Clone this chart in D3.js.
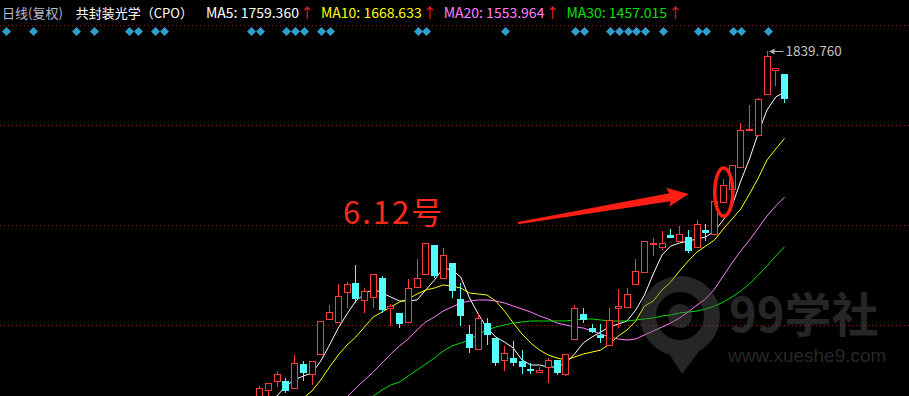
<!DOCTYPE html>
<html>
<head>
<meta charset="utf-8">
<script src="https://cdn.jsdelivr.net/npm/d3@7/dist/d3.min.js"></script>
<style>
  body { margin: 0; background: #000; overflow: hidden; }
</style>
</head>
<body>
<div id="chart"></div>
<script>
// daily candles, index 0 = first candle visible above the bottom edge
var opens  = [1160, 1175.8, 1193.3, 1195.3, 1179.7, 1228.5, 1207.0, 1246.0, 1314.3, 1308.5,
              1367.0, 1386.6, 1351.4, 1357.3, 1396.3, 1335.8, 1328.0, 1308.5, 1376.8, 1402.2,
              1460.7, 1394.3, 1425.6, 1355.3, 1287.0, 1255.7, 1308.5, 1279.2, 1234.3, 1240.1,
              1234.3, 1218.7, 1210.9, 1220.7, 1236.3, 1207.0, 1275.3, 1326.0, 1298.7, 1285.0,
              1263.6, 1335.8, 1337.7, 1382.6, 1406.1, 1462.6, 1454.8, 1480.2, 1466.5, 1476.3,
              1454.8, 1489.9, 1480.2, 1542.6, 1568.0, 1611.0, 1683.2, 1673.4, 1753.4, 1800.2,
              1794.4];
var highs  = [1185.5, 1191.4, 1214.8, 1201.1, 1246.0, 1234.3, 1234.3, 1312.4, 1343.6, 1384.6,
              1388.0, 1421.7, 1376.8, 1404.1, 1400.2, 1345.5, 1328.0, 1394.3, 1433.4, 1464.6,
              1460.7, 1454.8, 1425.6, 1386.6, 1304.6, 1328.0, 1318.2, 1279.2, 1263.6, 1273.3,
              1255.7, 1230.4, 1222.6, 1240.1, 1236.3, 1247.9, 1343.6, 1337.7, 1306.5, 1306.5,
              1337.7, 1374.8, 1376.8, 1433.4, 1468.5, 1474.3, 1488.0, 1491.9, 1497.7, 1489.9,
              1509.5, 1501.7, 1546.6, 1589.5, 1616.8, 1698.8, 1733.9, 1747.6, 1839.76, 1806.1,
              1794.4];
var lows   = [1150, 1160, 1183.6, 1172, 1179.7, 1195.3, 1187.5, 1246.0, 1314.3, 1308.5,
              1337.7, 1347.5, 1328.0, 1337.7, 1328.0, 1302.6, 1298.7, 1308.5, 1376.8, 1402.2,
              1396.3, 1394.3, 1357.3, 1302.6, 1249.9, 1255.7, 1265.5, 1224.5, 1214.8, 1224.5,
              1208.9, 1208.9, 1210.9, 1191.4, 1207.0, 1205.0, 1275.3, 1308.5, 1289.0, 1269.4,
              1263.6, 1298.7, 1337.7, 1382.6, 1406.1, 1439.2, 1450.9, 1474.3, 1466.5, 1445.1,
              1454.8, 1468.5, 1480.2, 1542.6, 1568.0, 1611.0, 1683.2, 1673.4, 1753.4, 1771.0,
              1737.8];
var closes = [1181.6, 1191.4, 1208.9, 1175.8, 1230.4, 1210.9, 1234.3, 1312.4, 1329.9, 1361.2,
              1384.6, 1355.3, 1370.9, 1404.1, 1333.8, 1341.6, 1306.5, 1376.8, 1396.3, 1464.6,
              1400.2, 1441.2, 1370.9, 1322.1, 1259.7, 1318.2, 1285.0, 1230.4, 1249.9, 1230.4,
              1222.6, 1216.7, 1216.7, 1236.3, 1210.9, 1247.9, 1337.7, 1314.3, 1290.9, 1279.2,
              1314.3, 1341.6, 1365.1, 1409.9, 1468.5, 1464.6, 1464.6, 1474.3, 1482.1, 1449.0,
              1501.7, 1484.1, 1546.6, 1577.8, 1616.8, 1685.1, 1687.1, 1745.6, 1829.5, 1806.1,
              1745.6];

var ma5  = [1148.4, 1154.3, 1166.0, 1185.5, 1197.2, 1205.0, 1210.9, 1234.3, 1265.5, 1298.7,
            1326.0, 1351.4, 1365.1, 1374.8, 1367.0, 1359.2, 1351.4, 1351.4, 1353.4, 1372.9,
            1392.4, 1415.8, 1411.9, 1398.2, 1357.3, 1326.0, 1298.7, 1281.1, 1271.4, 1259.7,
            1236.3, 1226.5, 1226.5, 1222.6, 1222.6, 1230.4, 1247.9, 1269.4, 1281.1, 1290.9,
            1300.7, 1306.5, 1312.4, 1333.8, 1363.1, 1404.1, 1441.2, 1458.7, 1464.6, 1468.5,
            1472.4, 1476.3, 1488.0, 1509.5, 1536.8, 1585.6, 1628.5, 1679.3, 1724.1, 1749.5,
            1759.36];
var ma10 = [1080.1, 1099.7, 1119.2, 1138.7, 1152.3, 1162.1, 1175.8, 1197.2, 1222.6, 1246.0,
            1265.5, 1281.1, 1300.7, 1320.2, 1329.9, 1339.7, 1349.4, 1355.3, 1365.1, 1372.9,
            1376.8, 1382.6, 1380.7, 1376.8, 1367.0, 1365.1, 1363.1, 1351.4, 1331.9, 1308.5,
            1287.0, 1269.4, 1255.7, 1246.0, 1240.1, 1236.3, 1242.1, 1247.9, 1251.8, 1255.7,
            1267.5, 1283.1, 1294.8, 1312.4, 1341.6, 1351.4, 1372.9, 1388.5, 1409.9, 1429.5,
            1447.0, 1458.7, 1470.4, 1491.9, 1511.4, 1530.9, 1560.2, 1591.4, 1626.6, 1648.0,
            1668.6];
var ma20 = [1021.6, 1037.2, 1050.9, 1064.5, 1080.1, 1095.8, 1109.4, 1123.1, 1138.7, 1152.3,
            1164.1, 1181.6, 1197.2, 1212.8, 1230.4, 1247.9, 1263.6, 1277.2, 1294.8, 1310.4,
            1320.2, 1331.9, 1339.7, 1347.5, 1351.4, 1353.4, 1353.4, 1351.4, 1347.5, 1341.6,
            1335.8, 1329.9, 1322.1, 1316.3, 1308.5, 1304.6, 1300.7, 1298.7, 1292.9, 1287.0,
            1281.1, 1277.2, 1275.3, 1277.2, 1285.0, 1292.9, 1300.7, 1308.5, 1318.2, 1329.9,
            1343.6, 1355.3, 1374.8, 1400.2, 1425.6, 1449.0, 1470.4, 1493.9, 1517.3, 1536.8,
            1554.0];
var ma30 = [924.0, 943.5, 963.1, 982.6, 1002.1, 1021.6, 1041.1, 1060.6, 1080.1, 1099.7,
            1119.2, 1134.8, 1150.4, 1166.0, 1177.7, 1187.5, 1193.3, 1205.0, 1216.7, 1228.5,
            1240.1, 1253.8, 1263.6, 1269.4, 1275.3, 1287.0, 1294.8, 1300.7, 1304.6, 1308.5,
            1310.4, 1312.4, 1312.4, 1312.4, 1312.4, 1312.4, 1314.3, 1316.3, 1316.3, 1314.3,
            1312.4, 1312.4, 1312.4, 1314.3, 1316.3, 1318.2, 1322.1, 1324.1, 1328.0, 1329.9,
            1331.9, 1335.8, 1341.6, 1349.4, 1359.2, 1370.9, 1384.6, 1402.2, 1419.7, 1439.2,
            1457.0];

// candles carrying a signal diamond (negative = earlier candles below the view)
var signalIndex = [-29, -26, -21, -19, -15, -14, -12, -11, -1, 0, 3, 4, 5, 7, 8, 18, 19, 28,
                   36, 37, 40, 41, 42, 43, 44, 46, 50, 51, 54, 55, 58];

var gridPrices = [1890, 1695, 1500, 1305];

var titleParts = ['日线(复权)', '共封装光学（CPO）'];
var maNames  = ['MA5', 'MA10', 'MA20', 'MA30'];
var maLabels = ['1759.360', '1668.633', '1553.964', '1457.015'];
var maColors = ['#ffffff', '#ffff00', '#ff80ff', '#00e000'];

var highestIndex = 58;
var highestLabel = '1839.760';

var noteText = '6.12号';
var notePos = [9.6, 1501.7];
var arrowFrom = [29.6, 1503.6];
var arrowTo = [49.1, 1560.0];
var circled = [53, 1564.0];

var W = 909, H = 396;
var UP = '#ff3c3c', DOWN = '#54fcfc';
var FONT = '"Noto Sans CJK SC", "Noto Sans", sans-serif';

var svg = d3.select('#chart')
    .append('svg')
    .attr('width', W)
    .attr('height', H)
    .style('background', '#000')
    .style('display', 'block');

var xScale = d3.scaleLinear().domain([0, 60]).range([259, 784]);
var yScale = d3.scaleLinear().domain([1166, 1890]).range([396, 25]);

// dotted grid
svg.append('g')
    .selectAll('line')
    .data(gridPrices)
    .enter()
    .append('line')
    .attr('x1', 0)
    .attr('x2', W)
    .attr('y1', d => Math.round(yScale(d)) + 0.5)
    .attr('y2', d => Math.round(yScale(d)) + 0.5)
    .attr('stroke', '#8a1c1c')
    .attr('stroke-width', 1)
    .attr('stroke-dasharray', '1,3');

// signal diamonds
svg.append('g')
    .selectAll('path')
    .data(signalIndex)
    .enter()
    .append('path')
    .attr('d', d => {
        var cx = Math.round(xScale(d)) + 1.5, cy = 31.5;
        return 'M' + cx + ',' + (cy - 4.5) + 'L' + (cx + 4.5) + ',' + cy +
               'L' + cx + ',' + (cy + 4.5) + 'L' + (cx - 4.5) + ',' + cy + 'Z';
    })
    .attr('fill', '#319fcc');

// moving averages
var maSeries = [ma5, ma10, ma20, ma30];
var line = d3.line()
    .x((d, i) => xScale(i) + 0.5)
    .y(d => yScale(d));

svg.append('g')
    .selectAll('path')
    .data(maSeries)
    .enter()
    .append('path')
    .attr('d', d => line(d))
    .attr('fill', 'none')
    .attr('stroke', (d, i) => maColors[i])
    .attr('stroke-width', 1);

// candles
var candles = d3.range(opens.length).map(i => ({
    i: i, o: opens[i], h: highs[i], l: lows[i], c: closes[i], up: closes[i] >= opens[i]
}));

var cg = svg.append('g').selectAll('g')
    .data(candles)
    .enter()
    .append('g');

cg.each(function(d) {
    var g = d3.select(this);
    var cx = Math.round(xScale(d.i));
    var yTop = Math.round(yScale(Math.max(d.o, d.c)));
    var yBot = Math.round(yScale(Math.min(d.o, d.c)));
    var yHi = Math.round(yScale(d.h));
    var yLo = Math.round(yScale(d.l));
    var col = d.up ? UP : DOWN;

    if (d.up) {
        if (yHi < yTop) {
            g.append('line').attr('x1', cx + 0.5).attr('x2', cx + 0.5)
                .attr('y1', yHi).attr('y2', yTop).attr('stroke', col);
        }
        if (yLo > yBot) {
            g.append('line').attr('x1', cx + 0.5).attr('x2', cx + 0.5)
                .attr('y1', yBot).attr('y2', yLo).attr('stroke', col);
        }
        g.append('rect')
            .attr('x', cx - 3 + 0.5)
            .attr('y', yTop + 0.5)
            .attr('width', 6)
            .attr('height', Math.max(1, yBot - yTop - 1))
            .attr('fill', '#000')
            .attr('stroke', col)
            .attr('stroke-width', 1);
    } else {
        g.append('line').attr('x1', cx + 0.5).attr('x2', cx + 0.5)
            .attr('y1', yHi).attr('y2', yLo).attr('stroke', col);
        g.append('rect')
            .attr('x', cx - 3)
            .attr('y', yTop)
            .attr('width', 7)
            .attr('height', Math.max(2, yBot - yTop))
            .attr('fill', col);
    }
});

// highest price marker
var hx = Math.round(xScale(highestIndex)) + 1.5;
var hy = Math.round(yScale(highs[highestIndex])) + 0.5;
svg.append('line')
    .attr('x1', hx + 1).attr('x2', hx + 15)
    .attr('y1', hy).attr('y2', hy)
    .attr('stroke', '#b4b4b4');
svg.append('path')
    .attr('d', 'M' + (hx + 1) + ',' + hy + 'L' + (hx + 6) + ',' + (hy - 3) + 'L' + (hx + 6) + ',' + (hy + 3) + 'Z')
    .attr('fill', '#b4b4b4');
svg.append('text')
    .attr('x', hx + 17)
    .attr('y', hy + 4.5)
    .attr('font-family', FONT)
    .attr('font-size', '13.5px')
    .attr('fill', '#c0c0c0')
    .text(highestLabel);

// annotation: text, arrow, ellipse
svg.append('text')
    .attr('x', xScale(notePos[0]))
    .attr('y', yScale(notePos[1]))
    .attr('font-family', FONT)
    .attr('font-size', '31px')
    .attr('letter-spacing', '2px')
    .attr('fill', '#ff2a1a')
    .text(noteText);

var ax0 = xScale(arrowFrom[0]), ay0 = yScale(arrowFrom[1]);
var ax1 = xScale(arrowTo[0]), ay1 = yScale(arrowTo[1]);
var ang = Math.atan2(ay1 - ay0, ax1 - ax0);
var len = Math.hypot(ax1 - ax0, ay1 - ay0);
var shape = [[0, -1], [len - 19, -4], [len - 21, -10], [len, 0], [len - 21, 9], [len - 19, 4], [0, 1.2]];
var pts = shape.map(p => [
    ax0 + p[0] * Math.cos(ang) - p[1] * Math.sin(ang),
    ay0 + p[0] * Math.sin(ang) + p[1] * Math.cos(ang)
]);
svg.append('path')
    .attr('d', 'M' + pts.map(p => p.join(',')).join('L') + 'Z')
    .attr('fill', '#ff1e14');

svg.append('ellipse')
    .attr('cx', xScale(circled[0]) + 1)
    .attr('cy', yScale(circled[1]))
    .attr('rx', 9)
    .attr('ry', 24)
    .attr('fill', 'none')
    .attr('stroke', '#ff1e14')
    .attr('stroke-width', 3.5);

// header
var header = svg.append('g').attr('font-family', FONT).attr('font-size', '13px');
var cursor = 2;
titleParts.forEach((t, i) => {
    var el = header.append('text')
        .attr('x', cursor).attr('y', 18)
        .attr('fill', i == 0 ? '#b9b9c8' : '#ffffff')
        .text(t);
    cursor += el.node().getComputedTextLength() + 13;
});
maNames.forEach((n, i) => {
    var el = header.append('text')
        .attr('x', cursor).attr('y', 18)
        .attr('font-size', '14px')
        .attr('fill', maColors[i])
        .text(n + ': ' + maLabels[i]);
    cursor += el.node().getComputedTextLength() + 1;
    var ar = header.append('text')
        .attr('x', cursor).attr('y', 18)
        .attr('font-size', '14px')
        .attr('fill', '#ff2020')
        .text('↑');
    cursor += ar.node().getComputedTextLength() + 7;
});

// watermark
var wm = svg.append('g').attr('opacity', 0.42).attr('fill', '#5c5c5c');
wm.append('circle')
    .attr('cx', 680).attr('cy', 316).attr('r', 32)
    .attr('fill', 'none').attr('stroke', '#5c5c5c').attr('stroke-width', 16);
wm.append('circle').attr('cx', 680).attr('cy', 316).attr('r', 12);
wm.append('path').attr('d', 'M668,352L700,350L682,374Z');
wm.append('text')
    .attr('x', 729).attr('y', 332)
    .attr('font-family', FONT)
    .attr('font-weight', 'bold')
    .attr('font-size', '47px')
    .text('99学社');
wm.append('text')
    .attr('x', 728).attr('y', 362)
    .attr('font-family', '"Liberation Sans", Arial, sans-serif')
    .attr('font-size', '19px')
    .text('www.xueshe9.com');
</script>
</body>
</html>
